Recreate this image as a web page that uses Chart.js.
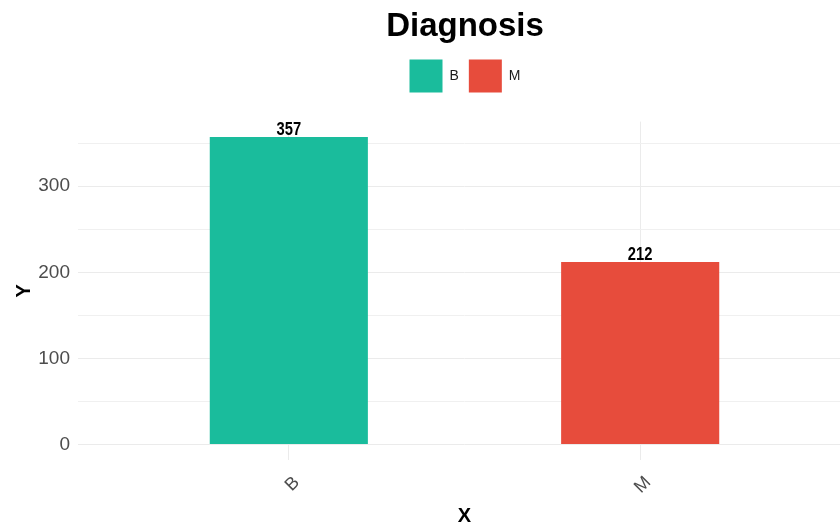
<!DOCTYPE html>
<html>
<head>
<meta charset="utf-8">
<script src="https://cdn.jsdelivr.net/npm/chart.js@4/dist/chart.umd.min.js"></script>
<style>
  html, body { margin: 0; padding: 0; background: #ffffff; overflow: hidden; width: 840px; height: 529px; }
  #wrap { position: absolute; left: 0; top: 0; width: 930px; height: 529px; }
</style>
</head>
<body>
<div id="wrap"><canvas id="chart" width="930" height="529"></canvas></div>
<script>
// Diagnosis counts
const categories = ['B', 'M'];
const counts = [357, 212];
const barColors = ['#1ABC9C', '#E74C3C'];
const yTickValues = [0, 50, 100, 150, 200, 250, 300, 350];

const FONT = "'Liberation Sans', Arial, sans-serif";

// Value labels above each bar
const valueLabels = {
  id: 'valueLabels',
  afterDatasetsDraw(chart) {
    const ctx = chart.ctx;
    ctx.save();
    ctx.fillStyle = '#000000';
    ctx.textAlign = 'center';
    ctx.textBaseline = 'alphabetic';
    chart.data.datasets.forEach((ds, i) => {
      const meta = chart.getDatasetMeta(i);
      meta.data.forEach((bar, j) => {
        const v = ds.data[j].y;
        ctx.save();
        ctx.translate(bar.x, bar.y - 2);
        ctx.scale(0.82, 1);
        ctx.font = "bold 18px " + FONT;
        ctx.fillText(String(v), 0, 0);
        ctx.restore();
      });
    });
    ctx.restore();
  }
};

// Extra space between the legend and the plot
const legendGap = {
  id: 'legendGap',
  beforeInit(chart) {
    const fit = chart.legend.fit;
    chart.legend.fit = function () {
      fit.call(this);
      this.height += 19;
    };
  }
};

const datasets = categories.map((c, i) => ({
  label: c,
  data: [{ x: i, y: counts[i] }],
  backgroundColor: barColors[i],
  borderWidth: 0,
  grouped: false,
  barPercentage: 0.45,
  categoryPercentage: 1
}));

new Chart(document.getElementById('chart'), {
  type: 'bar',
  data: { datasets },
  plugins: [valueLabels, legendGap],
  options: {
    responsive: false,
    animation: false,
    devicePixelRatio: 1,
    layout: { padding: 0 },
    plugins: {
      title: {
        display: true,
        text: 'Diagnosis',
        color: '#000000',
        font: { family: FONT, size: 33, weight: 'bold' },
        padding: { top: 7, bottom: 3 }
      },
      legend: {
        display: true,
        position: 'top',
        labels: {
          boxWidth: 33,
          boxHeight: 33,
          padding: 10,
          color: '#1A1A1A',
          font: { family: FONT, size: 14 }
        }
      },
      tooltip: { enabled: false }
    },
    scales: {
      x: {
        type: 'linear',
        min: -0.6,
        max: 1.6,
        offset: false,
        afterBuildTicks(scale) { scale.ticks = categories.map((c, i) => ({ value: i })); },
        afterFit(scale) { scale.height = 69; },
        grid: { color: '#EBEBEB', lineWidth: 1, drawTicks: false, offset: false },
        border: { display: false },
        ticks: {
          autoSkip: false,
          maxRotation: 45,
          minRotation: 45,
          padding: 12,
          labelOffset: 8,
          color: '#4D4D4D',
          font: { family: FONT, size: 18 },
          callback: (v) => categories[v]
        },
        title: {
          display: true,
          text: 'X',
          color: '#000000',
          font: { family: FONT, size: 20, weight: 'bold' },
          padding: { top: 0, bottom: 1 }
        }
      },
      y: {
        min: -17.85,
        max: 374.85,
        afterBuildTicks(scale) { scale.ticks = yTickValues.map(v => ({ value: v })); },
        afterFit(scale) { scale.width = 78; },
        grid: {
          color: (ctx) => (ctx.tick && ctx.tick.value % 100 !== 0) ? '#F0F0F0' : '#EBEBEB',
          lineWidth: 1,
          drawTicks: false
        },
        border: { display: false },
        ticks: {
          padding: 8,
          color: '#4D4D4D',
          font: { family: FONT, size: 19 },
          callback: (v) => (v % 100 === 0 ? String(v) : '')
        },
        title: {
          display: true,
          text: 'Y',
          color: '#000000',
          font: { family: FONT, size: 20, weight: 'bold' },
          padding: { top: 12, bottom: 0 }
        }
      },
      // empty right-hand axis: keeps the plot panel running past the right edge
      yRight: {
        position: 'right',
        display: true,
        min: 0,
        max: 1,
        afterFit(scale) { scale.width = 79; },
        grid: { display: false, drawTicks: false },
        border: { display: false },
        ticks: { display: false }
      }
    }
  }
});
</script>
</body>
</html>
